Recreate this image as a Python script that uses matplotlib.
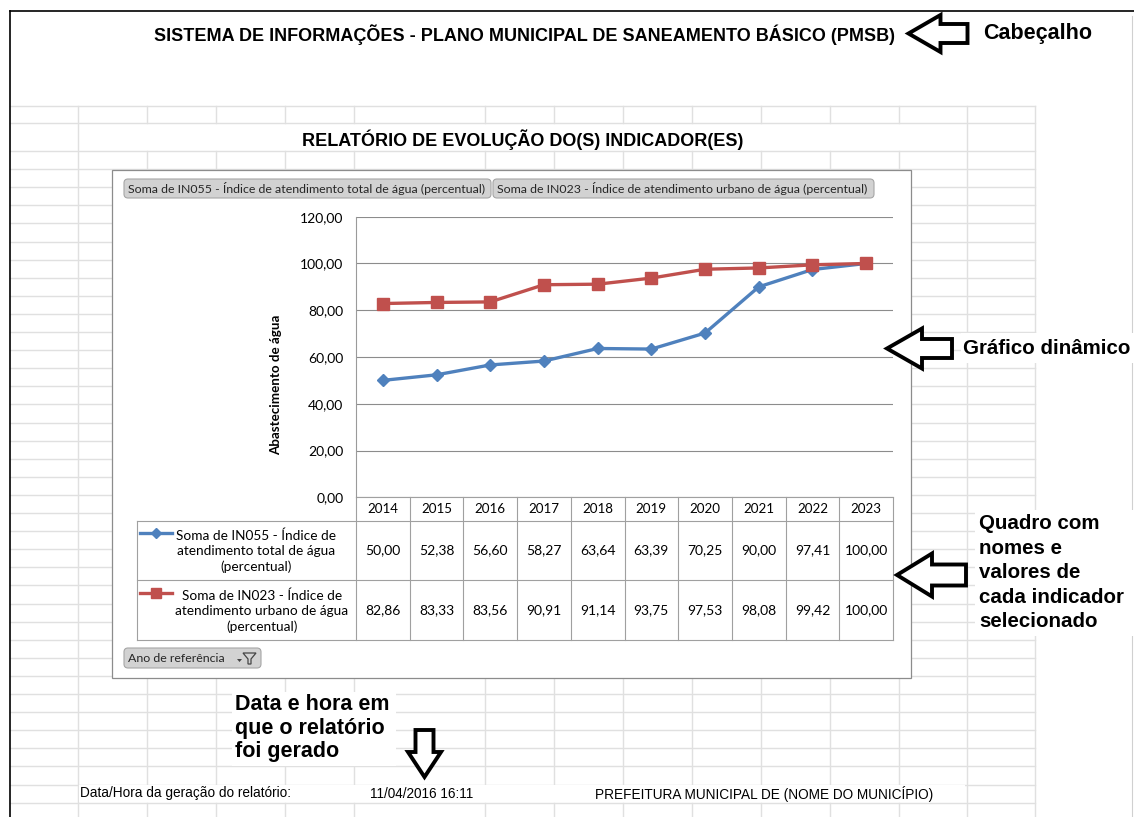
import matplotlib
matplotlib.use("Agg")
import matplotlib.pyplot as plt
from matplotlib.patches import Rectangle, Polygon, FancyBboxPatch

# dados do relatorio
anos = [2014, 2015, 2016, 2017, 2018, 2019, 2020, 2021, 2022, 2023]
in055 = [50.00, 52.38, 56.60, 58.27, 63.64, 63.39, 70.25, 90.00, 97.41, 100.00]
in023 = [82.86, 83.33, 83.56, 90.91, 91.14, 93.75, 97.53, 98.08, 99.42, 100.00]
y_ticks = [0, 20, 40, 60, 80, 100, 120]

nome_in055 = "Soma de IN055 - Índice de atendimento total de água (percentual)"
nome_in023 = "Soma de IN023 - Índice de atendimento urbano de água (percentual)"
leg_in055 = "Soma de IN055 - Índice de\natendimento total de água\n(percentual)"
leg_in023 = "Soma de IN023 - Índice de\natendimento urbano de água\n(percentual)"

cabecalho = "SISTEMA DE INFORMAÇÕES - PLANO MUNICIPAL DE SANEAMENTO BÁSICO (PMSB)"
titulo = "RELATÓRIO DE EVOLUÇÃO DO(S) INDICADOR(ES)"
rodape = ["Data/Hora da geração do relatório:", "11/04/2016 16:11",
          "PREFEITURA MUNICIPAL DE (NOME DO MUNICÍPIO)"]

AZUL = "#4F81BD"
VERMELHO = "#C0504D"
W, H = 1134, 817
CHART_FONT = "Lato"
SHEET_FONT = "Liberation Sans"

fig = plt.figure(figsize=(W / 100, H / 100), dpi=100)
bg = fig.add_axes([0, 0, 1, 1])
bg.set_xlim(0, W)
bg.set_ylim(H, 0)
bg.axis("off")

# grade da planilha
grid_c = "#e0e0e0"
cols = [77.7, 146.7, 215.7, 284.7, 353.7, 484.7, 553.7, 622.7, 691.7, 760.7, 829.7, 898.7, 966.7, 1035]
rows = [105.7, 123.3] + [151 + 18.1 * k for k in range(37)]
for y in rows:
    bg.plot([10, 1035], [y, y], color=grid_c, lw=1.0, zorder=1)
for x in cols:
    # linha de titulo mesclada
    if x in (77.7, 966.7, 1035):
        bg.plot([x, x], [105.7, H], color=grid_c, lw=1.0, zorder=1)
    else:
        bg.plot([x, x], [105.7, 123.3], color=grid_c, lw=1.0, zorder=1)
        if 146 < x < 900:
            bg.plot([x, x], [151, 784], color=grid_c, lw=1.0, zorder=1)
            bg.plot([x, x], [802.7, H], color=grid_c, lw=1.0, zorder=1)
        else:
            bg.plot([x, x], [151, H], color=grid_c, lw=1.0, zorder=1)

# moldura da captura
bg.plot([10, W], [11, 11], color="black", lw=1.2, zorder=2)
bg.plot([10, 10], [11, H], color="black", lw=1.2, zorder=2)
bg.plot([1132, 1132], [16, H], color="#d0d0d0", lw=0.8, zorder=2)

# textos da planilha
bg.text(524, 35, cabecalho, family=SHEET_FONT, weight="bold", fontsize=13,
        ha="center", va="center", zorder=3)
bg.text(523, 140, titulo, family=SHEET_FONT, weight="bold", fontsize=13,
        ha="center", va="center", zorder=3)
bg.add_patch(Rectangle((79, 785), 886, 17, facecolor="white", edgecolor="none", zorder=1.5))
bg.text(80, 793.5, rodape[0], family=SHEET_FONT, fontsize=9.8, ha="left", va="center", zorder=3)
bg.text(370, 793.5, rodape[1], family=SHEET_FONT, fontsize=9.8, ha="left", va="center", zorder=3)
bg.text(595, 793.5, rodape[2], family=SHEET_FONT, fontsize=9.8, ha="left", va="center", zorder=3)

# area do grafico
bg.add_patch(Rectangle((112, 170), 799, 508, facecolor="white", edgecolor="#8c8c8c", lw=0.9, zorder=4))


def botao(x0, y0, w, h, txt, fs):
    bg.add_patch(FancyBboxPatch((x0, y0), w, h, boxstyle="round,pad=0,rounding_size=4",
                                facecolor="#d2d2d2", edgecolor="#a6a6a6", lw=0.8, zorder=5))
    bg.text(x0 + 4, y0 + h / 2, txt, family=CHART_FONT, fontsize=fs, color="#262626",
            ha="left", va="center", zorder=6)


botao(124, 179, 367, 19, nome_in055, 8.9)
botao(493, 179, 381, 19, nome_in023, 8.9)
botao(124, 648, 137, 20, "Ano de referência", 8.9)
bg.add_patch(Polygon([(243, 653), (256, 653), (251, 659), (251, 664), (248, 664), (248, 659)],
                     closed=True, facecolor="#d2d2d2", edgecolor="#444444", lw=0.9, zorder=6))
bg.add_patch(Polygon([(237, 659), (242, 659), (239.5, 662)], closed=True,
                     facecolor="#444444", edgecolor="none", zorder=6))

bg.text(276, 385, "Abastecimento de água", family=CHART_FONT, weight="bold", fontsize=9.6,
        rotation=90, ha="center", va="center", zorder=6)

# grafico de linhas
px0, px1, py0, py1 = 356, 893, 216.7, 497.3
ax = fig.add_axes([px0 / W, 1 - py1 / H, (px1 - px0) / W, (py1 - py0) / H])
ax.set_facecolor("none")
xs = list(range(len(anos)))
ax.plot(xs, in055, color=AZUL, lw=2.4, marker="D", ms=6.3, zorder=3)
ax.plot(xs, in023, color=VERMELHO, lw=2.4, marker="s", ms=8.3, zorder=3)
ax.set_xlim(-0.5, len(anos) - 0.5)
ax.set_ylim(0, 120)
ax.set_yticks(y_ticks)
ax.set_yticklabels([f"{v:.2f}".replace(".", ",") for v in y_ticks], family=CHART_FONT, fontsize=10)
ax.set_xticks([])
ax.tick_params(axis="y", length=0, pad=9)
ax.grid(axis="y", color="#8c8c8c", lw=0.8)
for s in ["top", "right", "bottom"]:
    ax.spines[s].set_visible(False)
ax.spines["left"].set_color("#9a9a9a")
ax.spines["left"].set_linewidth(0.8)

# tabela de dados
tab_c = "#a0a0a0"
cw = (px1 - px0) / len(anos)
r0, r1, r2, r3 = 497.3, 520.7, 580, 640
bg.plot([px0, px1], [r0, r0], color=tab_c, lw=0.8, zorder=6)
for y in (r1, r2, r3):
    bg.plot([137, px1], [y, y], color=tab_c, lw=0.8, zorder=6)
bg.plot([137, 137], [r1, r3], color=tab_c, lw=0.8, zorder=6)
for k in range(len(anos) + 1):
    x = px0 + k * cw
    bg.plot([x, x], [r0, r3], color=tab_c, lw=0.8, zorder=6)
for k, ano in enumerate(anos):
    xc = px0 + (k + 0.5) * cw
    bg.text(xc, (r0 + r1) / 2, str(ano), family=CHART_FONT, fontsize=9.6,
            ha="center", va="center", zorder=7)
    bg.text(xc, (r1 + r2) / 2, f"{in055[k]:.2f}".replace(".", ","), family=CHART_FONT,
            fontsize=10, ha="center", va="center", zorder=7)
    bg.text(xc, (r2 + r3) / 2, f"{in023[k]:.2f}".replace(".", ","), family=CHART_FONT,
            fontsize=10, ha="center", va="center", zorder=7)

bg.text(256, (r1 + r2) / 2 + 1, leg_in055, family=CHART_FONT, fontsize=9.8, ha="center",
        va="center", linespacing=1.3, zorder=7)
bg.text(262, (r2 + r3) / 2 + 1, leg_in023, family=CHART_FONT, fontsize=9.8, ha="center",
        va="center", linespacing=1.3, zorder=7)
bg.plot([140, 172], [533, 533], color=AZUL, lw=2.4, zorder=7)
bg.plot([156], [533], color=AZUL, marker="D", ms=5.5, zorder=7)
bg.plot([140, 172], [593, 593], color=VERMELHO, lw=2.4, zorder=7)
bg.plot([156], [593], color=VERMELHO, marker="s", ms=7.5, zorder=7)


# setas de anotacao
def seta_esq(tx, ty, hl, hh, sh, L):
    pts = [(tx, ty), (tx + hl, ty - hh), (tx + hl, ty - sh), (tx + L, ty - sh),
           (tx + L, ty + sh), (tx + hl, ty + sh), (tx + hl, ty + hh)]
    bg.add_patch(Polygon(pts, closed=True, facecolor="white", edgecolor="black",
                         lw=2.8, joinstyle="miter", zorder=8))


def seta_baixo(tx, ty, hl, hh, sh, L):
    pts = [(tx, ty), (tx - hh, ty - hl), (tx - sh, ty - hl), (tx - sh, ty - L),
           (tx + sh, ty - L), (tx + sh, ty - hl), (tx + hh, ty - hl)]
    bg.add_patch(Polygon(pts, closed=True, facecolor="white", edgecolor="black",
                         lw=2.8, joinstyle="miter", zorder=8))


seta_esq(908.5, 33.5, 32, 18.5, 9.5, 59)
seta_esq(887, 348.5, 35, 20, 9.5, 65)
seta_esq(897, 575, 35, 21.5, 10.5, 69)
seta_baixo(424.5, 777, 25, 16.5, 9, 47)

ann = dict(family=SHEET_FONT, weight="bold", fontsize=15.5, ha="left", va="center", zorder=9)
ann_borda = dict(ann, fontsize=14.8)
bg.text(983, 33.5, "Cabeçalho", **ann)
bg.add_patch(Rectangle((961, 333), W - 961, 30, facecolor="white", edgecolor="none", zorder=8))
bg.text(963, 348.5, "Gráfico dinâmico", **ann_borda)
bg.add_patch(Rectangle((975, 510), W - 975, 126, facecolor="white", edgecolor="none", zorder=8))
for i, linha in enumerate(["Quadro com", "nomes e", "valores de", "cada indicador", "selecionado"]):
    bg.text(979, 523.5 + i * 24.6, linha, **ann_borda)
bg.add_patch(Rectangle((232, 692), 164, 74, facecolor="white", edgecolor="none", zorder=8))
for i, linha in enumerate(["Data e hora em", "que o relatório", "foi gerado"]):
    bg.text(235, 705 + i * 23.4, linha, **ann)

fig.savefig("out.png", dpi=100)
